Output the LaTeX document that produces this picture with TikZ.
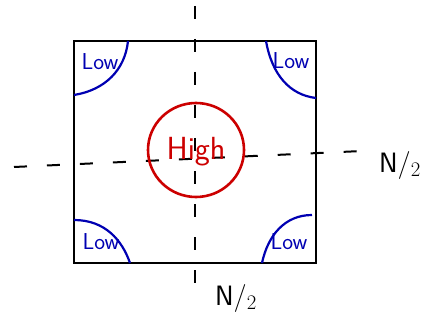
\documentclass[tikz,border=0pt]{standalone}
\usepackage{tikz}
\usetikzlibrary{arrows.meta, positioning}

\begin{document}
\begin{tikzpicture}[
    x=1pt, y=-1pt,
    axis/.style={draw=black, line width=2pt, dash pattern=on 13pt off 20pt},
    lowarc/.style={draw=blue!70!black, line width=2.2pt},
    lowlbl/.style={text=blue!70!black, font=\sffamily\fontsize{23}{23}\selectfont},
    highlbl/.style={text=red!80!black, font=\sffamily\fontsize{32}{32}\selectfont},
    halfn/.style={font=\sffamily\fontsize{28}{28}\selectfont},
    thick
  ]
  \useasboundingbox (0,0) rectangle (427,320);
  % dashed centre lines
  \coordinate (vt) at (195,6);
  \coordinate (vb) at (195,300);
  \coordinate (hl) at (14,167);
  \coordinate (hr) at (362,151);
  \draw[axis] (vt) -- (vb);
  \draw[axis] (hl) -- (hr);
  % frame
  \draw[line width=2.6pt] (74,41) rectangle (316,263);
  % high region
  \draw[red!80!black, line width=2.6pt] (196,150) ellipse (48 and 47);
  \node[highlbl] (high) at (196,152) {High};
  % low corners
  \draw[lowarc] (74,95) .. controls (105,90) and (125,70) .. (128,41);
  \draw[lowarc] (266,41) .. controls (272,75) and (290,95) .. (316,98);
  \draw[lowarc] (74,220) .. controls (105,220) and (122,240) .. (130,263);
  \draw[lowarc] (262,263) .. controls (268,235) and (285,215) .. (312,215);
  \node[lowlbl] (ltl) at (100,62)  {Low};
  \node[lowlbl] (ltr) at (291,61)  {Low};
  \node[lowlbl] (lbl) at (101,242) {Low};
  \node[lowlbl] (lbr) at (289,242) {Low};
  % sizes
  \node[halfn] (nr) at (400,165) {N/$_2$};
  \node[halfn] (nb) at (236,298) {N/$_2$};
\end{tikzpicture}
\end{document}
